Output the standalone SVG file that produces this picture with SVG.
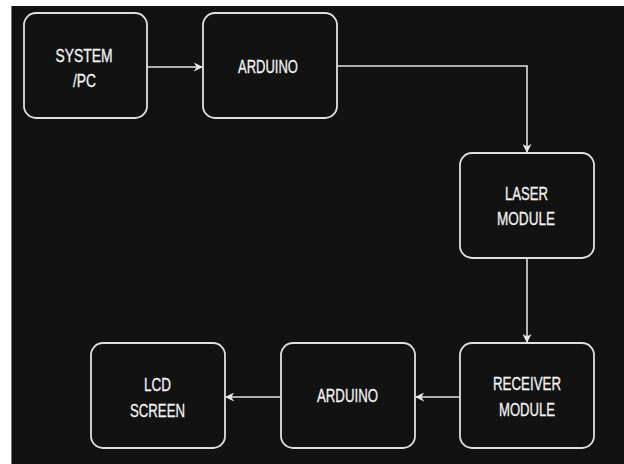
<svg xmlns="http://www.w3.org/2000/svg" width="624" height="464" viewBox="0 0 624 464">
<defs>
<style>
.box{fill:#121212;stroke:#e0e0e0;stroke-width:1.8}
.lbl{font-family:"Liberation Sans",Arial,sans-serif;font-size:18px;fill:#f2f2f2;stroke:#f2f2f2;stroke-width:0.3;text-anchor:middle}
.con{fill:none;stroke:#e0e0e0;stroke-width:1.6}
</style>
<marker id="ah" viewBox="0 0 10 10" refX="9" refY="5" markerWidth="9" markerHeight="9" markerUnits="userSpaceOnUse" orient="auto">
<path d="M0,0 L10,5 L0,10 L3,5 Z" fill="#e8e8e8"/>
</marker>
</defs>
<rect width="624" height="464" fill="#ffffff"/>
<rect x="11.5" y="6" width="612.5" height="458" fill="#121212"/>
<line x1="11.5" y1="6" x2="11.5" y2="464" stroke="#777" stroke-width="1"/>
<g id="connectors">
<path class="con" d="M147,67 H202" marker-end="url(#ah)"/>
<path class="con" d="M337,66 H527 V152" marker-end="url(#ah)"/>
<path class="con" d="M527,258 V342" marker-end="url(#ah)"/>
<path class="con" d="M460,397 H416" marker-end="url(#ah)"/>
<path class="con" d="M281,397 H226" marker-end="url(#ah)"/>
</g>
<g id="system-pc">
<rect class="box" x="24" y="13" width="123" height="105" rx="12"/>
<text class="lbl" x="84" y="62" textLength="57" lengthAdjust="spacingAndGlyphs">SYSTEM</text>
<text class="lbl" x="84.5" y="87" textLength="23" lengthAdjust="spacingAndGlyphs">/PC</text>
</g>
<g id="arduino-top">
<rect class="box" x="203" y="13" width="134" height="105" rx="12"/>
<text class="lbl" x="268" y="73" textLength="60" lengthAdjust="spacingAndGlyphs">ARDUINO</text>
</g>
<g id="laser-module">
<rect class="box" x="460" y="153" width="134" height="105" rx="12"/>
<text class="lbl" x="526.5" y="200" textLength="43" lengthAdjust="spacingAndGlyphs">LASER</text>
<text class="lbl" x="526" y="225" textLength="58" lengthAdjust="spacingAndGlyphs">MODULE</text>
</g>
<g id="receiver-module">
<rect class="box" x="460" y="343" width="134" height="105" rx="12"/>
<text class="lbl" x="527" y="390" textLength="68" lengthAdjust="spacingAndGlyphs">RECEIVER</text>
<text class="lbl" x="527" y="416" textLength="56" lengthAdjust="spacingAndGlyphs">MODULE</text>
</g>
<g id="arduino-bottom">
<rect class="box" x="281" y="343" width="134" height="105" rx="12"/>
<text class="lbl" x="347.5" y="402" textLength="61" lengthAdjust="spacingAndGlyphs">ARDUINO</text>
</g>
<g id="lcd-screen">
<rect class="box" x="91" y="343" width="134" height="105" rx="12"/>
<text class="lbl" x="157.5" y="391" textLength="27" lengthAdjust="spacingAndGlyphs">LCD</text>
<text class="lbl" x="157.5" y="417" textLength="55" lengthAdjust="spacingAndGlyphs">SCREEN</text>
</g>
</svg>
